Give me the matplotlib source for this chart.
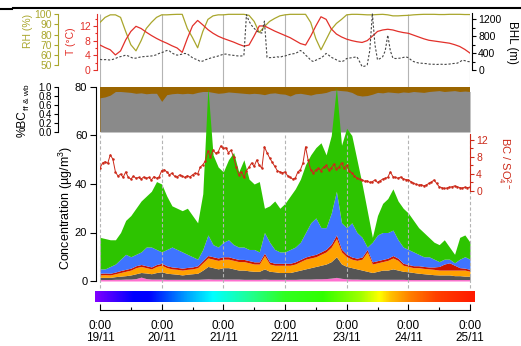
import numpy as np
import matplotlib
matplotlib.use('Agg')
import matplotlib.pyplot as plt
from matplotlib.colors import LinearSegmentedColormap
from matplotlib.lines import Line2D
from matplotlib.ticker import MultipleLocator, FixedLocator

plt.rcParams['font.family'] = ['Liberation Sans', 'DejaVu Sans']
plt.rcParams['mathtext.fontset'] = 'custom'
plt.rcParams['mathtext.rm'] = 'Liberation Sans'
plt.rcParams['mathtext.it'] = 'Liberation Sans'
plt.rcParams['mathtext.bf'] = 'Liberation Sans:bold'

# time axis: days since 19/11 0:00
t2 = np.arange(73) / 12.0    # 2-hourly
t1 = np.arange(145) / 24.0   # hourly
day_ticks = [0, 1, 2, 3, 4, 5, 6]
day_labels = ['0:00\n19/11', '0:00\n20/11', '0:00\n21/11', '0:00\n22/11',
              '0:00\n23/11', '0:00\n24/11', '0:00\n25/11']

# meteorology
rh = [92, 97, 99.5, 99.5, 97, 83, 70, 64, 74, 86, 92, 97,
      99.5, 99.5, 99.8, 100, 100, 86, 77, 67, 83, 95, 98.5, 99.5,
      99.5, 100, 100, 100, 100, 99, 93, 82, 88, 93, 96, 98.5,
      99.5, 100, 100, 100, 100, 92, 76, 65, 75, 85, 91, 95,
      99.5, 100, 100, 99.8, 99.5, 99.5, 99.8, 100, 99.5, 98.5, 98.5, 98.8,
      99, 99.5, 99.8, 100, 100, 100, 99.8, 99.8, 100, 100, 100, 99.8, 99.8]
temp = [6.8, 6.1, 5.5, 4.1, 5.2, 8.2, 10.5, 11.9, 11.3, 10.3, 9.4, 8.6,
        7.9, 7.3, 6.6, 6.0, 4.8, 8.6, 12.0, 13.5, 12.3, 11.0, 10.0, 9.2,
        8.6, 8.1, 7.6, 7.0, 6.5, 6.8, 9.3, 12.0, 12.0, 11.3, 10.6, 10.0,
        9.4, 8.8, 8.0, 7.2, 6.8, 9.2, 12.0, 14.5, 13.8, 11.2, 9.8, 9.0,
        8.4, 8.0, 7.7, 7.5, 8.0, 9.2, 10.5, 10.9, 11.1, 10.9, 10.5, 10.2,
        10.0, 9.5, 9.0, 8.5, 8.1, 7.9, 7.7, 7.5, 7.3, 6.9, 6.4, 5.6, 4.6]
bhl = [250, 240, 245, 240, 235, 250, 270, 300, 315, 330, 350, 330,
       300, 275, 280, 295, 310, 315, 320, 325, 330, 340, 360, 390,
       410, 430, 460, 450, 400, 370, 350, 360, 375, 390, 380, 330,
       290, 260, 240, 200, 210, 240, 260, 280, 300, 310, 330, 350,
       370, 375, 360, 350, 345, 335, 330, 330, 340, 1300, 1150, 1050,
       980, 920, 880, 870, 1150, 300, 290, 295, 300, 310, 300, 320,
       330, 350, 370, 380, 390, 420, 460, 420, 350, 300, 230, 200,
       230, 260, 280, 330, 390, 350, 300, 270, 240, 210, 195, 220,
       270, 280, 290, 300, 310, 200, 80, 90, 120, 460, 1330, 600,
       240, 270, 310, 450, 820, 450, 280, 270, 275, 280, 295, 310,
       290, 240, 200, 180, 165, 160, 155, 150, 140, 135, 135, 130,
       135, 135, 130, 135, 140, 150, 155, 160, 190, 230, 220, 200, 195]

# fraction of BC from fossil fuel (rest: wood burning)
bc_ff = [0.76, 0.78, 0.82, 0.90, 0.90, 0.89, 0.88, 0.86, 0.87, 0.85, 0.86, 0.86,
         0.68, 0.83, 0.85, 0.86, 0.85, 0.86, 0.85, 0.88, 0.90, 0.90, 0.88, 0.86,
         0.87, 0.89, 0.88, 0.87, 0.86, 0.85, 0.86, 0.85, 0.83, 0.86, 0.87, 0.85,
         0.84, 0.80, 0.85, 0.86, 0.84, 0.82, 0.85, 0.86, 0.88, 0.92, 0.93, 0.92,
         0.91, 0.88, 0.82, 0.80, 0.81, 0.84, 0.88, 0.87, 0.89, 0.88, 0.87, 0.89,
         0.88, 0.90, 0.89, 0.88, 0.90, 0.91, 0.92, 0.90, 0.91, 0.92, 0.90, 0.91, 0.90]

# stacked concentrations, cumulative top of each layer (ug/m3)
chl_top = [0.6, 0.6, 0.6, 0.7, 0.7, 0.8, 0.8, 1.0, 1.6, 1.0, 0.8, 0.8,
           0.8, 0.7, 0.7, 0.7, 0.7, 0.7, 0.7, 0.7, 0.8, 0.9, 0.8, 0.8,
           0.8, 0.8, 0.8, 0.8, 0.7, 0.7, 0.7, 0.7, 0.8, 0.7, 0.7, 0.7,
           0.7, 0.7, 0.7, 0.8, 0.8, 0.8, 0.9, 0.9, 1.0, 1.2, 1.5, 1.1,
           0.9, 0.8, 0.8, 0.7, 0.7, 0.7, 0.7, 0.7, 0.7, 0.7, 0.7, 0.7,
           0.6, 0.6, 0.6, 0.6, 0.6, 0.6, 0.6, 0.6, 0.6, 0.6, 0.6, 0.6, 0.6]
bc_top = [1.5, 1.5, 1.5, 1.8, 2.0, 2.2, 2.5, 3.0, 3.5, 3.3, 3.0, 3.5,
          3.8, 3.2, 3.0, 2.8, 2.5, 2.8, 3.0, 3.2, 4.5, 6.0, 5.5, 5.0,
          5.5, 5.5, 5.0, 4.5, 4.5, 4.2, 4.0, 4.0, 5.0, 4.0, 3.8, 3.5,
          3.5, 3.5, 4.0, 4.5, 5.0, 5.5, 6.0, 6.5, 7.0, 8.0, 10.0, 7.0,
          6.0, 5.5, 5.0, 4.5, 4.0, 3.5, 4.0, 4.5, 4.5, 5.0, 4.5, 4.0,
          3.8, 3.5, 3.2, 3.0, 2.8, 2.6, 2.5, 2.5, 2.5, 2.2, 2.2, 2.0, 2.0]
nh4_top = [2.5, 2.6, 2.5, 3.0, 3.5, 4.0, 4.5, 5.5, 6.0, 5.5, 5.0, 6.0,
           6.5, 5.5, 5.0, 4.8, 4.5, 4.8, 5.0, 5.5, 7.5, 9.5, 9.0, 8.5,
           9.0, 9.0, 8.5, 8.0, 8.0, 7.5, 7.0, 7.0, 10.5, 7.0, 6.5, 6.5,
           6.5, 6.5, 7.0, 8.0, 9.0, 9.5, 10.0, 11.0, 12.0, 14.0, 17.5, 12.0,
           10.0, 9.0, 8.5, 9.0, 12.0, 7.0, 7.5, 8.0, 8.5, 9.5, 8.5, 6.5,
           6.0, 5.5, 5.5, 5.2, 5.0, 4.8, 4.5, 4.5, 4.5, 4.5, 4.5, 4.5, 4.0]
so4_top = [3.2, 3.3, 3.2, 3.7, 4.3, 4.8, 5.3, 6.3, 6.8, 6.3, 5.8, 6.8,
           7.3, 6.3, 5.8, 5.6, 5.3, 5.6, 5.8, 6.3, 8.4, 10.5, 10.0, 9.5,
           10.0, 10.0, 9.4, 8.9, 8.9, 8.4, 7.9, 7.9, 11.5, 7.9, 7.3, 7.3,
           7.3, 7.3, 7.9, 8.9, 9.9, 10.5, 11.0, 12.0, 13.1, 15.2, 19.0, 13.1,
           11.0, 9.9, 9.4, 9.9, 13.0, 7.9, 8.4, 8.9, 9.4, 10.5, 9.4, 7.3,
           6.8, 6.3, 6.3, 6.0, 5.8, 5.8, 6.0, 7.0, 7.5, 6.5, 5.5, 5.3, 4.8]
no3_top = [5, 5, 6, 7, 9, 11, 10, 11, 12, 14, 14, 13,
           12, 13, 14, 13, 12, 11, 10, 9, 13, 19, 15, 14,
           16, 17, 15, 14, 14, 13, 13, 12, 20, 16, 13, 12,
           12, 13, 14, 16, 20, 24, 26, 22, 22, 28, 37, 24,
           22, 24, 20, 18, 14, 16, 19, 20, 20, 21, 17, 14,
           13, 12, 11, 10, 10, 9, 8, 9, 9, 7.5, 9, 10, 9]
org_top = [18, 17.5, 17, 17, 20, 25, 27, 30, 33, 35, 37, 41,
           40, 35, 31, 30, 29, 30, 27, 24, 36, 80, 52, 47,
           45, 50, 53, 45, 50, 42, 40, 41, 30, 31, 33, 30,
           32, 35, 38, 42, 48, 52, 55, 57, 52, 60, 80, 56,
           63, 60, 50, 40, 29, 18, 27, 32, 34, 38, 33, 30,
           28, 25, 22, 20, 18, 16, 15, 17, 14, 11, 18, 19, 16]

# BC / SO4 ratio (hourly)
ratio = [5.4, 6.6, 6.9, 6.5, 8.5, 7.5, 4.5, 3.5, 4.0, 3.2, 4.5, 3.2,
         2.8, 3.5, 3.0, 3.2, 2.8, 3.3, 3.0, 3.2, 2.6, 3.4, 3.0, 3.3,
         4.8, 5.0, 4.5, 3.8, 4.2, 3.5, 3.3, 3.8, 3.5, 3.2, 3.6, 3.3,
         3.8, 4.2, 4.0, 5.6, 6.2, 7.0, 9.5, 8.0, 9.6, 8.9, 9.2, 10.6,
         10.0, 10.2, 9.0, 9.6, 8.0, 5.6, 3.8, 4.5, 3.2, 4.8, 5.6, 6.6,
         5.8, 7.3, 6.0, 5.4, 10.4, 9.0, 7.8, 6.8, 5.8, 4.8, 4.5, 4.3,
         4.5, 3.6, 3.2, 2.8, 3.0, 4.5, 5.0, 6.6, 10.4, 7.3, 5.0, 4.2,
         5.0, 5.3, 4.8, 5.6, 6.0, 5.0, 5.4, 6.3, 5.2, 5.6, 6.6, 5.4,
         6.0, 4.8, 4.2, 3.6, 3.0, 2.8, 2.6, 2.3, 2.4, 2.0, 2.2, 2.6,
         2.0, 2.4, 2.8, 3.0, 3.2, 4.5, 3.4, 3.2, 3.0, 3.3, 2.9, 2.7,
         2.6, 2.2, 1.8, 1.6, 1.4, 1.5, 1.2, 1.4, 1.8, 2.1, 2.6, 1.8,
         1.0, 0.8, 0.6, 0.7, 0.9, 1.0, 1.2, 1.0, 0.8, 0.7, 0.9, 0.8, 0.9]

OLIVE = '#a9a62c'
TRED = '#e2302a'
RRED = '#cc2a1a'
GRID = '#b4b4b4'

W, H = 521, 346
fig = plt.figure(figsize=(W / 100, H / 100), dpi=100)


def box(x0, y0, x1, y1):
    # pixel box -> figure fraction [left, bottom, width, height]
    return [x0 / W, 1 - y1 / H, (x1 - x0) / W, (y1 - y0) / H]


def px(n):
    return n * 0.72  # pixels -> points


def bare(ax):
    ax.patch.set_visible(False)
    for s in ax.spines.values():
        s.set_visible(False)
    ax.set_xticks([])
    ax.set_xlim(0, 6)


# frame line at the very top
fig.add_artist(Line2D([13 / W, 1], [1 - 7.5 / H] * 2, color='black', lw=1.5))
fig.add_artist(Line2D([0, 12 / W], [1 - 9 / H] * 2, color='black', lw=1.5))

# gridlines behind the top panel
ax_grid = fig.add_axes(box(100, 12, 470, 87), zorder=0)
ax_grid.set_axis_off()
ax_grid.set_xlim(0, 6)
ax_grid.set_ylim(0, 1)
ax_grid.vlines(day_ticks, 0, 73 / 75, color=GRID, lw=0.8)

# ---- top panel: RH, T, BHL ----
ax_rh = fig.add_axes(box(100, 12, 470, 72), zorder=1)
bare(ax_rh)
ax_rh.plot(t2, rh, color=OLIVE, lw=0.9)
ax_rh.set_ylim(43.1, 102.3)
ax_rh.spines['left'].set_visible(True)
ax_rh.spines['left'].set_position(('outward', px(42)))
ax_rh.spines['left'].set_bounds(50, 100)
ax_rh.spines['left'].set_color(OLIVE)
ax_rh.set_yticks([50, 60, 70, 80, 90, 100])
ax_rh.tick_params(axis='y', colors=OLIVE, labelsize=7.5, length=3, width=0.8, pad=1.5)

ax_t = ax_rh.twinx()
ax_t.set_zorder(2)
bare(ax_t)
ax_t.plot(t2, temp, color=TRED, lw=0.9)
ax_t.set_ylim(-0.55, 15.8)
ax_t.yaxis.tick_left()
ax_t.spines['left'].set_visible(True)
ax_t.spines['left'].set_position(('outward', px(3)))
ax_t.spines['left'].set_bounds(0, 15.2)
ax_t.spines['left'].set_color(TRED)
ax_t.set_yticks([0, 4, 8, 12])
ax_t.yaxis.set_minor_locator(FixedLocator([2, 6, 10, 14]))
ax_t.tick_params(axis='y', which='major', colors=TRED, labelsize=7.5, length=3, width=0.8, pad=1.5)
ax_t.tick_params(axis='y', which='minor', colors=TRED, length=1.8, width=0.8)

ax_h = ax_rh.twinx()
ax_h.set_zorder(3)
bare(ax_h)
ax_h.plot(t1, bhl, color='#444444', lw=0.8, ls=(0, (2, 1.6)))
ax_h.set_ylim(-47, 1365)
ax_h.spines['right'].set_visible(True)
ax_h.spines['right'].set_position(('outward', px(2)))
ax_h.spines['right'].set_bounds(0, 1330)
ax_h.set_yticks([0, 400, 800, 1200])
ax_h.yaxis.set_minor_locator(FixedLocator([200, 600, 1000]))
ax_h.tick_params(axis='y', which='major', labelsize=7.5, length=3, width=0.8, pad=1.5)
ax_h.tick_params(axis='y', which='minor', length=1.8, width=0.8)

fig.text(28 / W, 1 - 31 / H, 'RH (%)', color=OLIVE, fontsize=7.5, rotation=90,
         ha='center', va='center')
fig.text(71 / W, 1 - 41 / H, 'T (\u00b0C)', color=TRED, fontsize=7.5, rotation=90,
         ha='center', va='center')
fig.text(512 / W, 1 - 42 / H, 'BHL (m)', color='black', fontsize=8.3, rotation=270,
         ha='center', va='center')

# ---- BC source fraction panel ----
ax_bc = fig.add_axes(box(100, 87, 470, 132), zorder=1)
bare(ax_bc)
ax_bc.fill_between(t2, 0, 1, color='#9a6500', lw=0)
ax_bc.fill_between(t2, 0, bc_ff, color='#8a8a8a', lw=0)
ax_bc.set_ylim(0, 1)
ax_bc.spines['left'].set_visible(True)
ax_bc.spines['left'].set_position(('outward', px(42)))
ax_bc.set_yticks([0, 0.2, 0.4, 0.6, 0.8, 1.0])
ax_bc.set_yticklabels(['0.0', '0.2', '0.4', '0.6', '0.8', '1.0'])
ax_bc.tick_params(axis='y', labelsize=7, length=3, width=0.8, pad=1.5)
fig.text(23 / W, 1 - 137 / H, '%BC', fontsize=8.5, rotation=90, ha='center', va='bottom')
fig.text(27.5 / W, 1 - 110 / H, 'ff & wb', fontsize=6, rotation=90, ha='center', va='bottom')

# ---- main concentration panel ----
ax_m = fig.add_axes(box(100, 87, 470, 281), zorder=2)
bare(ax_m)
layers = [(0, chl_top, '#ff70d0'), (chl_top, bc_top, '#555555'),
          (bc_top, nh4_top, '#ffa200'), (nh4_top, so4_top, '#cc1500'),
          (so4_top, no3_top, '#3f74ff'), (no3_top, org_top, '#2dc400')]
for lo, hi, c in layers:
    ax_m.fill_between(t2, lo, hi, color=c, lw=0)
ax_m.vlines(day_ticks, -3, 60, color=GRID, lw=0.8, ls=(0, (3, 2)), zorder=3, clip_on=False)
ax_m.set_ylim(0, 80)
ax_m.spines['left'].set_visible(True)
ax_m.spines['left'].set_position(('outward', px(4)))
ax_m.set_yticks([0, 20, 40, 60, 80])
ax_m.tick_params(axis='y', labelsize=8, length=4.3, width=0.8, pad=2)
fig.text(65.5 / W, 1 - 208 / H, 'Concentration (\u00b5g/m$^{3}$)', fontsize=9,
         rotation=90, ha='center', va='center')

ax_r = ax_m.twinx()
ax_r.set_zorder(4)
bare(ax_r)
ax_r.plot(t1, ratio, color=RRED, lw=0.7, marker='o', ms=1.8, mew=0, mfc=RRED)
ax_r.set_ylim(-21.18, 24.47)
ax_r.spines['right'].set_visible(True)
ax_r.spines['right'].set_bounds(0, 13.5)
ax_r.spines['right'].set_color(RRED)
ax_r.set_yticks([0, 4, 8, 12])
ax_r.yaxis.set_minor_locator(FixedLocator([2, 6, 10]))
ax_r.tick_params(axis='y', which='major', colors=RRED, labelsize=7.5, length=3, width=0.8, pad=1.5)
ax_r.tick_params(axis='y', which='minor', colors=RRED, length=1.8, width=0.8)
fig.text(504 / W, 1 - 163 / H, 'BC / SO$_4^{2-}$', color=RRED, fontsize=8,
         rotation=270, ha='center', va='center')

# ---- time colour bar ----
cmap = LinearSegmentedColormap.from_list('timebar', [
    (0.0, '#8000ff'), (0.1, '#0000ff'), (0.14, '#0000ff'), (0.19, '#0050ff'),
    (0.24, '#00a0ff'), (0.31, '#00ffff'), (0.41, '#20ff90'), (0.5, '#30ff20'),
    (0.6, '#30ff00'), (0.70, '#a0ff00'), (0.75, '#ffff00'), (0.78, '#ffc000'),
    (0.83, '#ff8000'), (0.9, '#ff4000'), (1.0, '#ff1a00')])
ax_cb = fig.add_axes(box(95, 291, 475, 302))
ax_cb.imshow(np.linspace(0, 1, 512)[None, :], cmap=cmap, aspect='auto',
             extent=[0, 1, 0, 1])
ax_cb.set_axis_off()

# ---- time axis ----
ax_x = fig.add_axes(box(100, 300, 470, 310))
ax_x.patch.set_visible(False)
for s in ['left', 'right', 'top']:
    ax_x.spines[s].set_visible(False)
ax_x.set_yticks([])
ax_x.set_xlim(0, 6)
ax_x.set_xticks(day_ticks)
ax_x.set_xticklabels(day_labels, linespacing=1.05)
ax_x.xaxis.set_minor_locator(MultipleLocator(0.5))
ax_x.tick_params(axis='x', which='major', direction='in', length=4.3, width=0.8,
                 labelsize=8.5, pad=7)
ax_x.tick_params(axis='x', which='minor', direction='in', length=2.2, width=0.8)

fig.savefig('out.png', dpi=100)
